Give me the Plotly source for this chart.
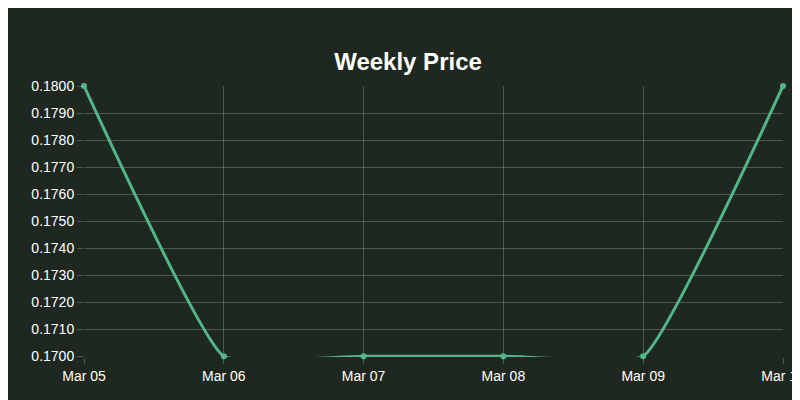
import plotly.graph_objects as go

dates = ["Mar 05", "Mar 06", "Mar 07", "Mar 08", "Mar 09", "Mar 10"]
prices = [0.18, 0.17, 0.17, 0.17, 0.17, 0.18]
y_ticks = [0.170, 0.171, 0.172, 0.173, 0.174, 0.175, 0.176, 0.177, 0.178, 0.179, 0.180]

bg = "#1f2820"
line_col = "#52b788"
grid = "rgba(255,255,255,0.22)"

fig = go.Figure()
fig.add_trace(go.Scatter(x=dates, y=prices, mode="lines+markers",
                         line=dict(color=line_col, width=3, shape="spline", smoothing=0.35),
                         marker=dict(size=6, color=line_col), cliponaxis=False))

fig.update_layout(
    width=800, height=400, paper_bgcolor=bg, plot_bgcolor=bg,
    margin=dict(l=76, r=25, t=78, b=51),
    title=dict(text="<b>Weekly Price</b>", x=0.5, y=0.865, xanchor="center", yanchor="middle",
               font=dict(family="Liberation Sans, Arial", size=24, color="white")),
    font=dict(family="Liberation Sans, Arial", size=14, color="white"),
    showlegend=False,
)
fig.update_xaxes(showgrid=True, gridcolor=grid, zeroline=False, showline=False, automargin=False,
                 range=[0, 5], ticks="outside", ticklen=6, tickcolor=grid)
fig.update_yaxes(showgrid=True, gridcolor=grid, zeroline=False, range=[0.16997, 0.18], automargin=False,
                 tickvals=y_ticks, tickformat=".4f", ticks="outside", ticklen=6, tickcolor=grid)

fig.write_html("out.html")
